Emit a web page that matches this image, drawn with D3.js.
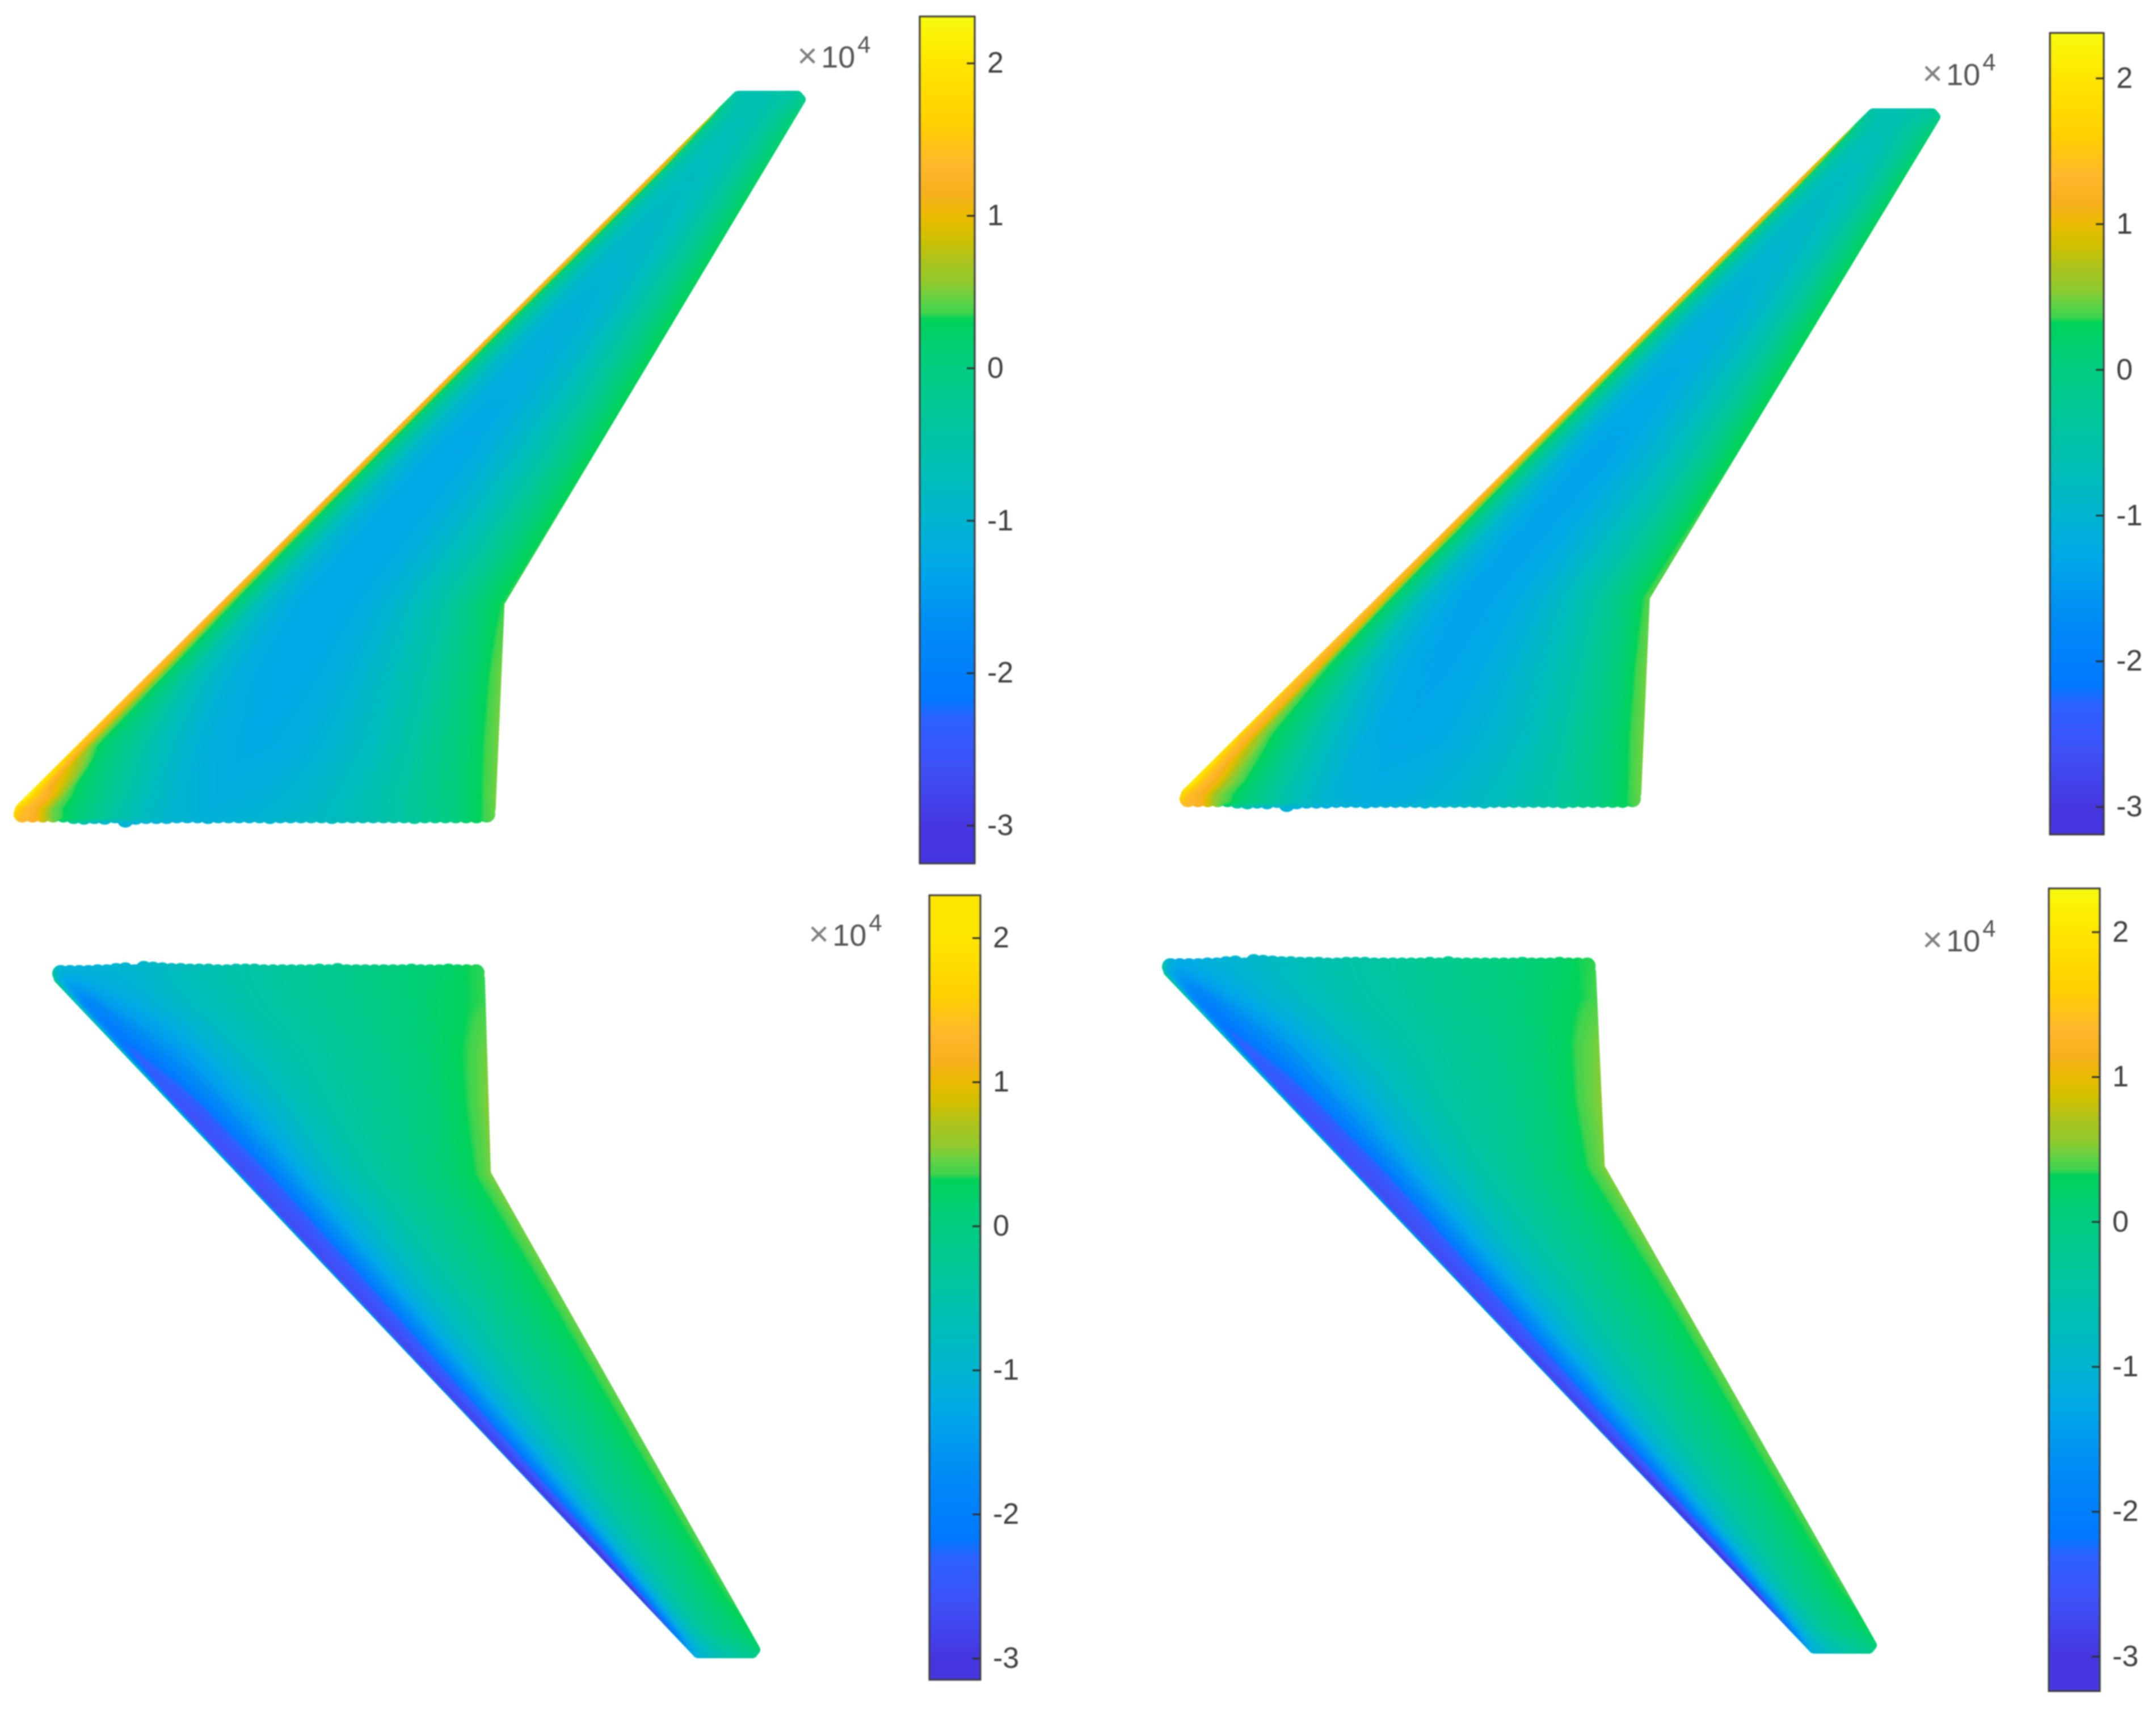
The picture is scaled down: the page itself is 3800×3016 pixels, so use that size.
<!DOCTYPE html>
<html><head><meta charset="utf-8">
<script src="https://cdn.jsdelivr.net/npm/d3@7"></script>
<style>html,body{margin:0;padding:0;background:#fff}
#c,#s{position:absolute;left:0;top:0}
text{font-family:"Liberation Sans",Arial,sans-serif}</style></head>
<body><canvas id="c" width="3800" height="3016"></canvas><svg id="s" width="3800" height="3016"></svg>
<script>
// colour map (units of 10^4)
const cmapValues=[-3.3,-3.0,-2.6,-2.3,-2.17,-1.7,-1.3,-1.0,-0.7,-0.3,0.1,0.32,0.36,0.45,0.55,0.7,0.85,1.0,1.15,1.35,1.6,2.0,2.3];
const cmapColors=["#4428c8","#4636e0","#3e52f8","#2c62ff","#0078ff","#008cf5","#00a8e8","#00b5d0","#00bdb8","#00c898","#00cf78","#00d25a","#3fd44e","#62d245","#8fcb2e","#abc41e","#cfc000","#eabb00","#f8b020","#ffb92a","#ffd000","#ffe600","#f8fa0d"];
const tickValues=[2,1,0,-1,-2,-3];

// planform, fractions of half-span (s) and of overall length (x)
const planSpan=[0,0.012,0.298,1];
const planLE=[[0,0.002,0.268,0.92],[0,0.002,0.267,0.917],[0,0.002,0.2675,0.918],[0,0.002,0.2675,0.918]];
const planTE=[[0.603,0.6035,0.615,1],[0.601,0.6015,0.613,1],[0.605,0.6055,0.614,1],[0.601,0.6015,0.614,1]];

// table axes
const chordStations=[0,.008,.015,.03,.05,.08,.12,.18,.25,.32,.4,.5,.6,.7,.8,.9,.96,1];
const upperSpan=[-.007,0,.03,.1,.2,.3,.5,.7,.9,.97,1];
const lowerSpan=[0,.05,.12,.2,.3,.5,.7,.85,.92,.97,1];

const fieldA=[
[1.4,1.4,1.35,1.3,1.1,.6,-.2,-.95,-1.05,-1.1,-1.1,-1,-.85,-.7,-.45,-.05,.3,.4],
[1.6,1.5,1.4,1.3,1.15,.5,.25,-.2,-.65,-.95,-1.1,-1.05,-.9,-.7,-.45,-.05,.3,.45],
[2.2,1.9,1.6,1.35,1.1,.45,.15,-.25,-.7,-1,-1.15,-1.1,-.95,-.7,-.4,0,.3,.5],
[1.6,1.4,1.25,.55,.3,.05,-.2,-.6,-.95,-1.15,-1.25,-1.2,-1,-.75,-.4,.05,.33,.5],
[1.4,1.3,1.2,.6,.25,-.05,-.5,-.9,-1.15,-1.25,-1.3,-1.2,-1,-.7,-.4,.05,.33,.5],
[1.35,1.25,1.15,.5,.2,-.15,-.6,-1,-1.2,-1.3,-1.3,-1.2,-1,-.7,-.4,.05,.28,.36],
[1.3,1.2,1.1,.35,.1,-.25,-.6,-1,-1.2,-1.3,-1.3,-1.15,-.95,-.7,-.4,0,.25,.33],
[1.3,1.2,1.15,.35,.1,-.25,-.5,-.85,-1.05,-1.1,-1.1,-1,-.85,-.6,-.3,.05,.25,.3],
[1.25,1.2,1.15,.9,.25,-.15,-.4,-.6,-.7,-.75,-.75,-.7,-.6,-.45,-.25,0,.15,.25],
[.8,.5,.2,.1,-.1,-.2,-.35,-.5,-.6,-.65,-.65,-.6,-.5,-.4,-.25,-.1,.05,.15],
[-.2,-.3,-.4,-.45,-.5,-.5,-.55,-.6,-.6,-.6,-.6,-.55,-.5,-.45,-.4,-.3,-.2,-.1]];
const fieldB=[
[1.4,1.4,1.35,1.3,1.1,.6,-.3,-1,-1.1,-1.15,-1.15,-1.05,-.9,-.7,-.45,-.05,.3,.4],
[1.5,1.45,1.4,1.3,1.15,.55,.3,-.15,-.65,-1,-1.15,-1.1,-.95,-.7,-.45,-.05,.3,.45],
[2.1,1.9,1.6,1.35,1.15,.6,.3,-.2,-.7,-1.05,-1.2,-1.15,-1,-.75,-.45,-.05,.3,.5],
[1.7,1.5,1.35,1.2,.6,.33,.1,-.45,-.9,-1.2,-1.3,-1.25,-1.05,-.8,-.45,0,.33,.5],
[1.5,1.35,1.25,1.1,.4,.15,-.25,-.8,-1.15,-1.3,-1.35,-1.25,-1.05,-.75,-.45,0,.33,.5],
[1.4,1.3,1.2,.9,.33,.05,-.4,-.95,-1.2,-1.35,-1.35,-1.25,-1.05,-.75,-.45,0,.3,.42],
[1.35,1.25,1.15,.6,.25,-.15,-.55,-1,-1.25,-1.35,-1.35,-1.2,-1,-.75,-.45,0,.28,.33],
[1.3,1.2,1.15,.5,.15,-.2,-.5,-.9,-1.1,-1.15,-1.15,-1.05,-.9,-.65,-.35,.05,.25,.3],
[1.25,1.2,1.15,.9,.25,-.15,-.4,-.6,-.75,-.8,-.8,-.75,-.65,-.5,-.3,0,.15,.25],
[.8,.5,.2,.1,-.1,-.2,-.35,-.5,-.6,-.65,-.65,-.6,-.5,-.4,-.25,-.1,.05,.15],
[-.2,-.3,-.4,-.45,-.5,-.5,-.55,-.6,-.6,-.6,-.6,-.55,-.5,-.45,-.4,-.3,-.2,-.1]];
const fieldC=[
[.3,-.6,-.9,-1.1,-1.1,-1.1,-1.05,-1,-.85,-.7,-.55,-.4,-.25,-.1,.05,.2,.33,.35],
[-.3,-1.2,-1.6,-1.9,-1.8,-1.5,-1.3,-1.1,-.9,-.7,-.55,-.4,-.25,-.1,.05,.25,.33,.36],
[-.3,-1.5,-2,-2.3,-2.2,-2,-1.7,-1.4,-1.1,-.85,-.65,-.45,-.3,-.15,.05,.28,.38,.5],
[-.3,-1.8,-2.4,-2.6,-2.55,-2.4,-2,-1.55,-1.2,-.95,-.7,-.45,-.3,-.15,.05,.28,.4,.55],
[-.3,-1.8,-2.5,-2.65,-2.62,-2.55,-2.3,-1.75,-1.3,-1,-.75,-.5,-.3,-.12,.08,.27,.38,.5],
[-.3,-2,-2.6,-2.7,-2.65,-2.55,-2.3,-1.75,-1.3,-1,-.75,-.5,-.3,-.1,.1,.27,.36,.45],
[-.3,-2.2,-2.8,-2.8,-2.7,-2.5,-2.2,-1.65,-1.2,-.9,-.65,-.4,-.2,-.05,.12,.28,.36,.42],
[-.3,-2.4,-3,-3,-2.8,-2.45,-2.1,-1.45,-1,-.75,-.5,-.3,-.15,0,.15,.3,.34,.38],
[-.3,-2.6,-3.1,-3.05,-2.5,-2.1,-1.7,-1.2,-.85,-.6,-.4,-.2,-.1,.05,.15,.3,.33,.35],
[-.5,-2,-2.3,-2.1,-1.9,-1.6,-1.3,-1,-.75,-.55,-.4,-.25,-.1,0,.05,.15,.25,.3],
[-.5,-.8,-1.2,-1.3,-1.2,-1.1,-1,-.9,-.8,-.7,-.6,-.5,-.4,-.3,-.2,-.1,0,.1]];
const fieldD=[
[.4,-.7,-1,-1.2,-1.25,-1.2,-1.1,-1,-.85,-.7,-.55,-.4,-.25,-.1,.05,.2,.33,.35],
[-.3,-1.3,-1.7,-2,-1.9,-1.6,-1.35,-1.1,-.9,-.7,-.55,-.4,-.25,-.1,.05,.25,.33,.38],
[-.3,-1.6,-2.1,-2.35,-2.25,-2.05,-1.75,-1.4,-1.1,-.85,-.65,-.45,-.3,-.15,.05,.28,.42,.52],
[-.3,-1.8,-2.45,-2.6,-2.58,-2.42,-2,-1.55,-1.2,-.95,-.7,-.45,-.3,-.15,.05,.3,.45,.55],
[-.3,-1.8,-2.5,-2.65,-2.62,-2.55,-2.3,-1.75,-1.3,-1,-.75,-.5,-.3,-.12,.08,.28,.4,.52],
[-.3,-2,-2.6,-2.7,-2.65,-2.55,-2.3,-1.75,-1.3,-1,-.75,-.5,-.3,-.1,.1,.27,.36,.46],
[-.3,-2.2,-2.8,-2.85,-2.7,-2.5,-2.2,-1.65,-1.2,-.9,-.65,-.4,-.2,-.05,.12,.28,.36,.42],
[-.3,-2.4,-3,-3,-2.8,-2.45,-2.1,-1.45,-1,-.75,-.5,-.3,-.15,0,.15,.3,.34,.38],
[-.3,-2.6,-3.1,-3.05,-2.5,-2.1,-1.7,-1.2,-.85,-.6,-.4,-.2,-.1,.05,.15,.3,.33,.35],
[-.5,-2,-2.3,-2.1,-1.9,-1.6,-1.3,-1,-.75,-.55,-.4,-.25,-.1,0,.05,.15,.25,.3],
[-.5,-.8,-1.2,-1.3,-1.2,-1.1,-1,-.9,-.8,-.7,-.6,-.5,-.4,-.3,-.2,-.1,0,.1]];

// root edge roughness, read from the crops (thousandths of span beyond the root line, LE to TE)
const rootRoughUpper=[0,0,0,0,0,2,3,2,3,1,7,3,2,2,2,1,1,1,2,1,1,1,1,1,2,1,1,1,1,1,2,1,1,1,1,1,1,1,2,1,1,1,1,1,1,0];
const rootRoughLower=[0,0,0,0,1,1,3,4,1,6,5,4,3,3,2,2,2,1,1,2,2,2,1,1,1,1,1,1,2,1,3,1,1,1,1,1,1,1,2,1,1,1,2,1,1,1];

const fields=[fieldA,fieldB,fieldC,fieldD];
const panelSpan=[upperSpan,upperSpan,lowerSpan,lowerSpan];
const panelRough=[rootRoughUpper,rootRoughUpper,rootRoughLower,rootRoughLower];

// layout
const INSET=9, DOT=15;
const wingBox=[[24,1420,1450,160],[2079,3420,1423,191],[92,1340,1701,2923],[2048,3308,1689,2915]];
const barBox=[{x:[1621,1718],y:[29,1522]},{x:[3613,3708],y:[58,1471]},{x:[1638,1728],y:[1578,2961]},{x:[3611,3701],y:[1566,2981]}];
const barDomain=[[2.306,-3.25],[2.31,-3.19],[2.296,-3.15],[2.30,-3.24]];
const exponentPos=[[1405,119],[3388,150],[1425,1667],[3388,1677]];

const lut=(()=>{const sc=d3.scaleLinear().domain(cmapValues).range(cmapColors).interpolate(d3.interpolateRgb).clamp(true);
 const a=new Uint8Array(2048*3);for(let i=0;i<2048;i++){const c=d3.rgb(sc(-3.4+i/2047*5.8));a[3*i]=c.r;a[3*i+1]=c.g;a[3*i+2]=c.b;}return a;})();

const main=document.getElementById('c').getContext('2d');
main.fillStyle='#fff';main.fillRect(0,0,3800,3016);
const svg=d3.select('#s').style('filter','blur(0.9px)');
const defs=svg.append('defs');

fields.forEach((field,k)=>{
 const b=wingBox[k];
 const down=b[3]>b[2];
 const mx=d3.scaleLinear().domain([0,1]).range([b[0]+INSET,b[1]-INSET]);
 const my=d3.scaleLinear().domain([0,1]).range(down?[b[2]+INSET,b[3]-INSET]:[b[2]-INSET,b[3]+INSET]);
 const le=d3.scaleLinear().domain(planSpan).range(planLE[k]).clamp(true);
 const te=d3.scaleLinear().domain(planSpan).range(planTE[k]).clamp(true);
 const rowIdx=d3.scaleLinear().domain(panelSpan[k]).range(d3.range(panelSpan[k].length)).clamp(true);
 const colIdx=d3.scaleLinear().domain(chordStations).range(d3.range(chordStations.length)).clamp(true);
 const x0=Math.min(b[0],b[1])-30,x1=Math.max(b[0],b[1])+30,y0=Math.min(b[2],b[3])-30,y1=Math.max(b[2],b[3])+30;
 const W=Math.ceil((x1-x0)/2),H=Math.ceil((y1-y0)/2);
 const low=document.createElement('canvas');low.width=W;low.height=H;
 const lc=low.getContext('2d');const img=lc.createImageData(W,H);const d=img.data;
 const nr=field.length,nc=chordStations.length;
 const unitX=mx(1)-mx(0);
 const aOut=12.7/unitX,cOut=10/unitX; // field reaches the outline stroke on both edges
 for(let j=0;j<H;j++){
  const py=y0+j*2;let s=my.invert(py);s=Math.min(1,s);
  const L=le(s)-aOut,T=te(s)+cOut;
  const ri=rowIdx(s),r0=Math.min(Math.floor(ri),nr-2),rt=ri-r0;
  const A=field[r0],B=field[r0+1];
  for(let i=0;i<W;i++){
   const px=x0+i*2,X=mx.invert(px);
   let f=(X-L)/(T-L);f=Math.max(0,Math.min(1,f));
   const ci=colIdx(f),c0=Math.min(Math.floor(ci),nc-2),ct=ci-c0;
   const v=(A[c0]*(1-ct)+A[c0+1]*ct)*(1-rt)+(B[c0]*(1-ct)+B[c0+1]*ct)*rt;
   const q=Math.max(0,Math.min(2047,Math.round((v+3.4)/5.8*2047)));
   const o=4*(j*W+i);d[o]=lut[3*q];d[o+1]=lut[3*q+1];d[o+2]=lut[3*q+2];d[o+3]=255;
  }
 }
 lc.putImageData(img,0,0);
 const off=document.createElement('canvas');off.width=x1-x0;off.height=y1-y0;
 const oc=off.getContext('2d');oc.imageSmoothingEnabled=true;oc.imageSmoothingQuality='high';
 oc.drawImage(low,0,0,W*2,H*2);
 // outline from the planform, root edge made of the scatter dots
 const outline=[[planLE[k][1],.012],[planTE[k][1],.012],[planTE[k][2],planSpan[2]],[planTE[k][3],.995],[planTE[k][3]-.004,1],[planLE[k][3],1],[planLE[k][2],planSpan[2]]];
 const mask=document.createElement('canvas');mask.width=off.width;mask.height=off.height;
 const mc=mask.getContext('2d');
 const line=d3.line().x(p=>mx(p[0])-x0).y(p=>my(p[1])-y0).context(mc);
 mc.beginPath();line(outline);mc.closePath();
 mc.fillStyle=mc.strokeStyle='#000';mc.lineJoin='round';mc.lineWidth=2*INSET;mc.fill();mc.stroke();
 const rough=panelRough[k];
 const lift=(DOT-INSET)*(down?1:-1);
 const dotX=d3.scaleLinear().domain([0,rough.length-1]).range([mx(planLE[k][0])+DOT-INSET-x0,mx(planTE[k][0])-DOT+INSET-x0]);
 rough.forEach((r,i)=>{
  const cx=dotX(i),cy=my(-r/1000)-y0+lift;
  mc.beginPath();mc.arc(cx,cy,DOT,0,2*Math.PI);mc.fill();
  mc.fillRect(cx-DOT+2,Math.min(cy,my(.012)-y0),2*DOT-4,Math.abs(cy-(my(.012)-y0)));
 });
 oc.globalCompositeOperation='destination-in';
 oc.drawImage(mask,0,0);
 main.save();main.filter='blur(1.2px)';main.drawImage(off,x0,y0);main.restore();

 // colour bar
 const bb=barBox[k];
 const scale=d3.scaleLinear().domain(barDomain[k]).range(bb.y);
 const gid='g'+k;
 const grad=defs.append('linearGradient').attr('id',gid).attr('x1',0).attr('x2',0).attr('y1',0).attr('y2',1);
 const pct=d3.scaleLinear().domain(barDomain[k]).range([0,100]);
 const ordered=cmapValues.map((v,i)=>[v,cmapColors[i]]).reverse().filter(e=>e[0]<=barDomain[k][0]&&e[0]>=barDomain[k][1]);
 grad.selectAll('stop').data(ordered).join('stop').attr('offset',e=>pct(e[0])+'%').attr('stop-color',e=>e[1]);
 const g=svg.append('g');
 g.append('rect').attr('x',bb.x[0]).attr('y',bb.y[0]).attr('width',bb.x[1]-bb.x[0]).attr('height',bb.y[1]-bb.y[0]).attr('fill',`url(#${gid})`).attr('stroke','#3c3c3c').attr('stroke-width',3);
 const ax=g.append('g').attr('transform',`translate(${bb.x[1]},0)`).call(d3.axisRight(scale).tickValues(tickValues).tickSize(-14).tickPadding(22).tickFormat(d3.format('d')));
 ax.select('.domain').remove();
 ax.selectAll('line').attr('stroke','#303030').attr('stroke-width',3);
 ax.selectAll('text').attr('font-size',52).attr('fill','#404040').attr('font-family','Liberation Sans').text(d=>String(d));

 // exponent
 const ep=exponentPos[k];
 const t=svg.append('text').attr('x',ep[0]).attr('y',ep[1]).attr('fill','#555').attr('font-size',54);
 t.append('tspan').attr('fill','#808080').attr('font-size',62).text('×');
 t.append('tspan').attr('dx',6).text('10');
 t.append('tspan').attr('dy',-26).attr('dx',4).attr('font-size',42).text('4');
});
</script></body></html>
